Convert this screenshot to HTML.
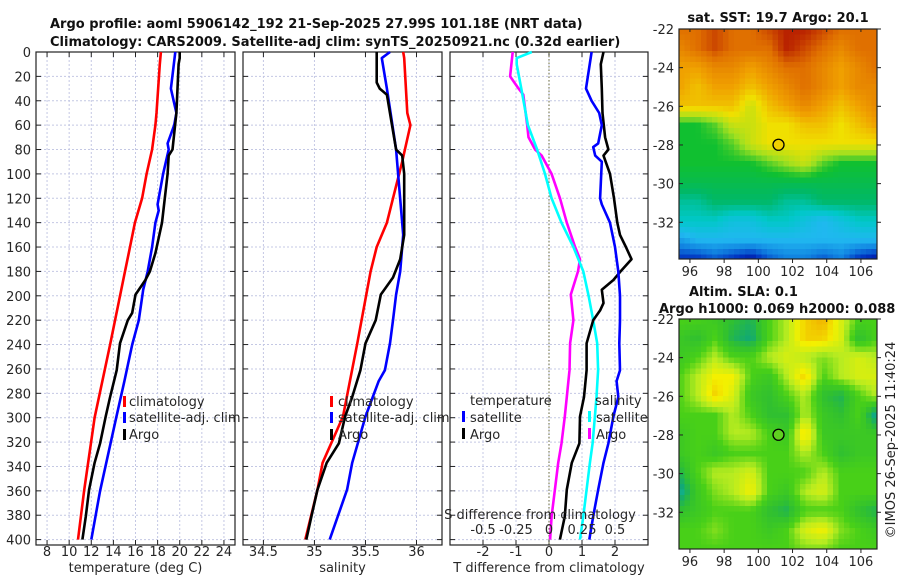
<!DOCTYPE html>
<html><head><meta charset="utf-8"><style>
html,body{margin:0;padding:0;background:#fff;}
svg{display:block;font-family:"DejaVu Sans","Liberation Sans",sans-serif;}
</style></head><body>
<svg id="fig" width="900" height="580" viewBox="0 0 900 580" xmlns="http://www.w3.org/2000/svg">
<text x="50" y="28" font-size="13" font-weight="bold" fill="#111">Argo profile: aoml 5906142_192 21-Sep-2025 27.99S 101.18E (NRT data)</text>
<text x="50" y="46" font-size="13" font-weight="bold" fill="#111">Climatology: CARS2009. Satellite-adj clim: synTS_20250921.nc (0.32d earlier)</text>
<text x="778" y="22" font-size="13" font-weight="bold" text-anchor="middle" fill="#111">sat. SST: 19.7 Argo: 20.1</text>
<text x="689" y="296" font-size="13" font-weight="bold" fill="#111">Altim. SLA: 0.1</text>
<text x="659" y="313" font-size="13" font-weight="bold" fill="#111">Argo h1000: 0.069 h2000: 0.088</text>
<text transform="translate(895,440) rotate(-90)" font-size="13" text-anchor="middle" fill="#222">©IMOS 26-Sep-2025 11:40:24</text>
<g id="layer"></g>
</svg>
<script>
// ---------- data ----------
const depthTicks = [0,20,40,60,80,100,120,140,160,180,200,220,240,260,280,300,320,340,360,380,400];
const tTicks = [8,10,12,14,16,18,20,22,24];
const sTicks = [34.5,35,35.5,36];
const sTickLabels = ["34.5","35","35.5","36"];
const dTicks = [-2,-1,0,1,2];
const dsTicks = [-0.5,-0.25,0,0.25,0.5];
const dsTickLabels = ["-0.5","-0.25","0","0.25","0.5"];

const climTDepth = [0,10,50,60,80,100,120,140,160,180,240,300,360,400];
const climT = [18.3,18.2,17.9,17.8,17.5,17.0,16.6,15.95,15.5,15.05,13.7,12.3,11.35,10.8];
const satTDepth = [0,30,50,60,75,80,100,110,125,130,140,160,180,195,220,240,270,300,360,400];
const satT = [19.6,19.2,19.7,19.5,18.9,19.0,18.5,18.3,18.0,18.1,17.8,17.5,17.1,16.7,16.3,15.7,15.0,14.25,12.8,12.0];
const argoTDepth = [0,5,10,50,80,85,100,140,165,180,187,199,214,220,239,261,283,299,321,337,359,381,400];
const argoT = [20.0,20.0,19.9,19.7,19.35,19.0,18.9,18.4,17.8,17.3,16.9,16.0,15.7,15.3,14.6,14.3,13.7,13.3,12.8,12.3,11.8,11.5,11.2];

const climSDepth = [0,5,50,60,75,90,120,140,160,180,239,299,337,359,400];
const climS = [35.87,35.88,35.91,35.94,35.9,35.86,35.77,35.71,35.61,35.55,35.42,35.28,35.08,35.03,34.91];
const satSDepth = [0,5,30,80,100,150,180,199,220,239,261,270,299,337,359,400];
const satS = [35.74,35.66,35.71,35.8,35.82,35.87,35.84,35.8,35.77,35.74,35.69,35.63,35.5,35.37,35.32,35.15];
const argoSDepth = [0,25,30,35,60,80,85,100,150,170,185,199,220,239,261,283,299,321,337,359,381,400];
const argoS = [35.61,35.61,35.64,35.71,35.76,35.8,35.86,35.88,35.88,35.84,35.77,35.65,35.6,35.5,35.45,35.37,35.3,35.24,35.12,35.03,34.97,34.92];

const satTdDepth = [0,30,40,50,60,75,78,85,90,120,125,140,160,180,200,220,239,261,270,283,299,321,337,359,381,400];
const satTd = [1.29,1.12,1.29,1.52,1.6,1.49,1.34,1.4,1.6,1.55,1.6,1.85,2.0,2.1,2.15,2.15,2.13,2.15,2.05,2.1,1.95,1.8,1.65,1.49,1.34,1.22];
const argoTdDepth = [0,10,30,50,70,80,85,100,120,140,150,160,170,179,187,195,206,212,220,239,261,283,299,321,337,359,381,400];
const argoTd = [1.65,1.57,1.6,1.62,1.7,1.8,1.65,1.85,1.97,2.07,2.15,2.33,2.5,2.2,1.95,1.6,1.65,1.55,1.34,1.14,1.14,1.06,0.94,0.92,0.69,0.54,0.48,0.33];
const satSdDepth = [0,5,10,30,60,80,100,120,140,160,180,200,220,239,261,283,299,321,337,359,381,400];
const satSd = [-0.13,-0.245,-0.245,-0.21,-0.16,-0.09,-0.03,0.02,0.095,0.185,0.26,0.3,0.335,0.365,0.372,0.36,0.348,0.33,0.31,0.285,0.26,0.235];
const argoSdDepth = [0,20,30,35,60,70,80,85,100,120,140,160,170,180,199,220,239,261,283,299,321,337,359,381,400];
const argoSd = [-0.275,-0.295,-0.23,-0.195,-0.165,-0.155,-0.105,-0.055,0.02,0.083,0.135,0.198,0.235,0.22,0.165,0.185,0.16,0.155,0.135,0.12,0.095,0.07,0.045,0.02,0.008];

const sstGrid = [
[10,10,10.5,10,10,10.5,11,11,10.5,10,10,10],
[9.5,10,10.5,10,10,10,11,10.5,10,9.5,10,10],
[9,9,9.5,9.5,9,9.5,10,10,9.5,9,9.5,10],
[9,8.5,9,9,8.5,9,9.5,10,9.5,9,9.5,9.5],
[8.5,8.5,8.5,8.5,7.5,8.5,9,9.5,9,8.5,9,9.5],
[6,6,6.5,7.5,7.5,8,8,8.5,8.5,8,8.5,9],
[6,6,6,6.5,7.5,8,8,8,8,8,8,8],
[6,6,6,6,6,6.5,7,7.5,6.5,6,6,6],
[5.5,5.5,5.5,5.5,5.5,5.5,5.5,5.5,5.5,5.5,5.5,5.5],
[4.5,4.5,5,5,5,5,4.5,4.5,5,5,5,5],
[4,4,4,3.5,3.5,4,4,3.5,3,3.5,4,4],
[2.5,3,3,3,3,3,3,3,3,3,3,3],
[1,1,1.5,1,0.5,1.5,2,2,1.5,2,1,0.5]];
const slaGrid = [
[3,3,2.5,2,1.5,3,4,5.5,6,4.5,3,3],
[2.5,2,3,1.5,1,3,4,5.5,5.5,4.5,2,3],
[2.5,3,4,3,3,4,4.5,4,3.5,4,4.5,4],
[3,4,5,5,3,2.5,4,5.5,3,4,4.5,4.5],
[3,4,5.5,4.5,2.5,2,3,4,2,1.5,3,4],
[3,3,3,4,3,2,2,4,2.5,2,3,0.5],
[2.5,3,3,4,4,3,2.5,5.5,2.5,2.5,2.5,2.5],
[2.5,3,2.5,3,3,3,3,4,3,2,2.5,2.5],
[1.5,3,4,4,4.5,3,3,3,4,3,3,3],
[0.5,2.5,3.5,4,5,3,2.5,4,4.5,3,3,3],
[2,2.5,3,3,3,2,1.5,3,3,3,2,1.5],
[3,3,3.5,3,3,2.5,3,4.5,5,3.5,3,2.5],
[3,3,3,3,3,3,3,3.5,3.5,3,3,3]];
const mapLatTicks = [-22,-24,-26,-28,-30,-32];
const mapLonTicks = [96,98,100,102,104,106];
const argoLon = 101.18, argoLat = -27.99;

// ---------- helpers ----------
const NS = "http://www.w3.org/2000/svg";
const layer = document.getElementById('layer');
function mk(tag, attrs, name, parent) {
  const el = document.createElementNS(NS, tag);
  for (const k in attrs) el.setAttribute(k, attrs[k]);
  
  
  (parent || layer).appendChild(el);
  return el;
}
function txt(x, y, s, name, opts) {
  const el = mk('text', Object.assign({x:x, y:y, 'font-size':13, fill:'#262626'}, opts||{}), name);
  el.textContent = s;
  return el;
}
const Y0 = 52, Y1 = 545, PXM = 1.219;
const yD = d => Y0 + d * PXM;

function panel(x0, x1, vmin, vmax, ticks, labels, xlabel, id) {
  const xs = v => x0 + (v - vmin) / (vmax - vmin) * (x1 - x0);
  depthTicks.forEach(d => {
    mk('line', {x1:x0, x2:x1, y1:yD(d), y2:yD(d), stroke:'#c4c8e4', 'stroke-width':1, 'stroke-dasharray':'2,2'}, id+'-gridline-y');
  });
  ticks.forEach(t => {
    mk('line', {x1:xs(t), x2:xs(t), y1:Y0, y2:Y1, stroke:'#c4c8e4', 'stroke-width':1, 'stroke-dasharray':'2,2'}, id+'-gridline-x');
  });
  mk('rect', {x:x0, y:Y0, width:x1-x0, height:Y1-Y0, fill:'none', stroke:'#222', 'stroke-width':1.2}, id+'-frame');
  depthTicks.forEach(d => {
    mk('line', {x1:x0, x2:x0+5, y1:yD(d), y2:yD(d), stroke:'#222'}, id+'-ytick');
    mk('line', {x1:x1-5, x2:x1, y1:yD(d), y2:yD(d), stroke:'#222'}, id+'-ytick');
  });
  ticks.forEach((t,i) => {
    mk('line', {x1:xs(t), x2:xs(t), y1:Y1, y2:Y1-5, stroke:'#222'}, id+'-xtick');
    mk('line', {x1:xs(t), x2:xs(t), y1:Y0, y2:Y0+5, stroke:'#222'}, id+'-xtick');
    txt(xs(t), 556, labels[i], id+'-xtick-label', {'text-anchor':'middle'});
  });
  txt((x0+x1)/2, 572, xlabel, id+'-x-axis-title', {'text-anchor':'middle'});
  return xs;
}
function line(xs, depths, vals, color, name, w) {
  const pts = depths.map((d,i) => xs(vals[i]).toFixed(1)+','+yD(d).toFixed(1)).join(' ');
  mk('polyline', {points:pts, fill:'none', stroke:color, 'stroke-width':w||2.6, 'stroke-linejoin':'round'}, name);
}
function legMark(x, y, color, name) {
  mk('rect', {x:x, y:y-11, width:3, height:11, fill:color}, name);
}

depthTicks.forEach(d => {
  txt(31, yD(d)+5, String(d), 'depth-tick-label', {'text-anchor':'end'});
});

const xT = panel(36, 235, 7, 25, tTicks, tTicks.map(String), 'temperature (deg C)', 'temp-panel');
line(xT, climTDepth, climT, '#ff0000', 'temp-climatology-line');
line(xT, satTDepth, satT, '#0000ff', 'temp-satellite-line');
line(xT, argoTDepth, argoT, '#000000', 'temp-argo-line');
legMark(123, 407, '#ff0000', 'legend-climatology-marker'); txt(129, 406, 'climatology', 'legend-climatology-label');
legMark(123, 423, '#0000ff', 'legend-satellite-marker'); txt(129, 422, 'satellite-adj. clim', 'legend-satellite-label');
legMark(123, 440, '#000000', 'legend-argo-marker'); txt(129, 439, 'Argo', 'legend-argo-label');

const xS = panel(243, 442, 34.3, 36.25, sTicks, sTickLabels, 'salinity', 'sal-panel');
line(xS, climSDepth, climS, '#ff0000', 'sal-climatology-line');
line(xS, satSDepth, satS, '#0000ff', 'sal-satellite-line');
line(xS, argoSDepth, argoS, '#000000', 'sal-argo-line');
legMark(330, 407, '#ff0000', 'legend2-climatology-marker'); txt(338, 406, 'climatology', 'legend2-climatology-label');
legMark(330, 423, '#0000ff', 'legend2-satellite-marker'); txt(338, 422, 'satellite-adj. clim', 'legend2-satellite-label');
legMark(330, 440, '#000000', 'legend2-argo-marker'); txt(338, 439, 'Argo', 'legend2-argo-label');

const xD = panel(450, 648, -3, 3, dTicks, dTicks.map(String), 'T difference from climatology', 'diff-panel');
const xDs = v => xD(v * 4);
mk('line', {x1:xD(0), x2:xD(0), y1:Y0, y2:Y1, stroke:'#6b6b3a', 'stroke-width':1, 'stroke-dasharray':'1.5,2'}, 'zero-line');
line(xDs, argoSdDepth, argoSd, '#ff00ff', 'sal-diff-argo-line');
line(xDs, satSdDepth, satSd, '#00ffff', 'sal-diff-satellite-line');
line(xD, argoTdDepth, argoTd, '#000000', 'temp-diff-argo-line');
line(xD, satTdDepth, satTd, '#0000ff', 'temp-diff-satellite-line');
txt(470, 405, 'temperature', 'legend3-temperature-heading');
legMark(462, 422, '#0000ff', 'legend3-temp-satellite-marker'); txt(470, 422, 'satellite', 'legend3-temp-satellite-label');
legMark(462, 439, '#000000', 'legend3-temp-argo-marker'); txt(470, 439, 'Argo', 'legend3-temp-argo-label');
txt(595, 405, 'salinity', 'legend3-salinity-heading');
legMark(588, 422, '#00ffff', 'legend3-sal-satellite-marker'); txt(596, 422, 'satellite', 'legend3-sal-satellite-label');
legMark(588, 439, '#ff00ff', 'legend3-sal-argo-marker'); txt(596, 439, 'Argo', 'legend3-sal-argo-label');
txt(540, 519, 'S difference from climatology', 'sdiff-axis-title', {'text-anchor':'middle'});
dsTicks.forEach((t,i) => {
  txt(xDs(t), 534, dsTickLabels[i], 'sdiff-tick-label', {'text-anchor':'middle'});
});

// ---------- maps ----------
const sstStops = ['#000080','#0030c0','#1080e0','#20b8f0','#00c8c8','#00b868','#10c030','#a0e020','#f0e000','#f0a000','#e07000','#b82000'];
const slaStops = ['#20d0e0','#10a878','#30c030','#48d018','#b8ec20','#f4f000','#f0b000'];
function hex(c){return [parseInt(c.substr(1,2),16),parseInt(c.substr(3,2),16),parseInt(c.substr(5,2),16)];}
function cmap(stops, v) {
  v = Math.max(0, Math.min(stops.length-1, v));
  const i = Math.min(stops.length-2, Math.floor(v)), f = v - i;
  const a = hex(stops[i]), b = hex(stops[i+1]);
  return 'rgb('+a.map((x,k)=>Math.round(x+(b[k]-x)*f)).join(',')+')';
}
function drawMap(x0, y0, x1, y1, grid, stops, markerFill, id) {
  const lonMin = 95.36, lonMax = 106.94, latTop = -22, latBot = -33.9;
  const xL = lon => x0 + (lon - lonMin)/(lonMax-lonMin)*(x1-x0);
  const yL = lat => y0 + (latTop - lat)/(latTop-latBot)*(y1-y0);
  const rows = grid.length, cols = grid[0].length;
  const g = mk('g', {}, id+'-heatmap');
  const cs = 5.5;
  for (let py = y0; py < y1; py += cs) {
    for (let px = x0; px < x1; px += cs) {
      const gx = (px + cs/2 - x0)/(x1-x0)*(cols-1);
      const gy = (py + cs/2 - y0)/(y1-y0)*(rows-1);
      const i0 = Math.min(cols-2, Math.floor(gx)), j0 = Math.min(rows-2, Math.floor(gy));
      const fx = gx - i0, fy = gy - j0;
      const v = grid[j0][i0]*(1-fx)*(1-fy) + grid[j0][i0+1]*fx*(1-fy) + grid[j0+1][i0]*(1-fx)*fy + grid[j0+1][i0+1]*fx*fy;
      mk('rect', {x:px.toFixed(1), y:py.toFixed(1), width:Math.min(cs, x1-px)+0.3, height:Math.min(cs, y1-py)+0.3, fill:cmap(stops, v)}, id+'-cell', g);
    }
  }
  mk('rect', {x:x0, y:y0, width:x1-x0, height:y1-y0, fill:'none', stroke:'#222', 'stroke-width':1.2}, id+'-frame');
  mapLatTicks.forEach(l => {
    mk('line', {x1:x0, x2:x0+4, y1:yL(l), y2:yL(l), stroke:'#222'}, id+'-lat-tick');
    mk('line', {x1:x1, x2:x1+4, y1:yL(l), y2:yL(l), stroke:'#222'}, id+'-lat-tick');
    txt(x0-5, yL(l)+5, String(l), id+'-lat-label', {'text-anchor':'end'});
  });
  mapLonTicks.forEach(l => {
    mk('line', {x1:xL(l), x2:xL(l), y1:y1, y2:y1+4, stroke:'#222'}, id+'-lon-tick');
    mk('line', {x1:xL(l), x2:xL(l), y1:y0, y2:y0+3, stroke:'#222'}, id+'-lon-tick');
    txt(xL(l), y1+17, String(l), id+'-lon-label', {'text-anchor':'middle'});
  });
  mk('circle', {cx:xL(argoLon), cy:yL(argoLat), r:5.5, fill:markerFill, stroke:'#000', 'stroke-width':1.3}, id+'-argo-location');
}
drawMap(679, 29, 877, 259, sstGrid, sstStops, '#f0d000', 'sst-map');
drawMap(679, 319, 877, 549, slaGrid, slaStops, '#60d020', 'sla-map');
</script>
</body></html>
